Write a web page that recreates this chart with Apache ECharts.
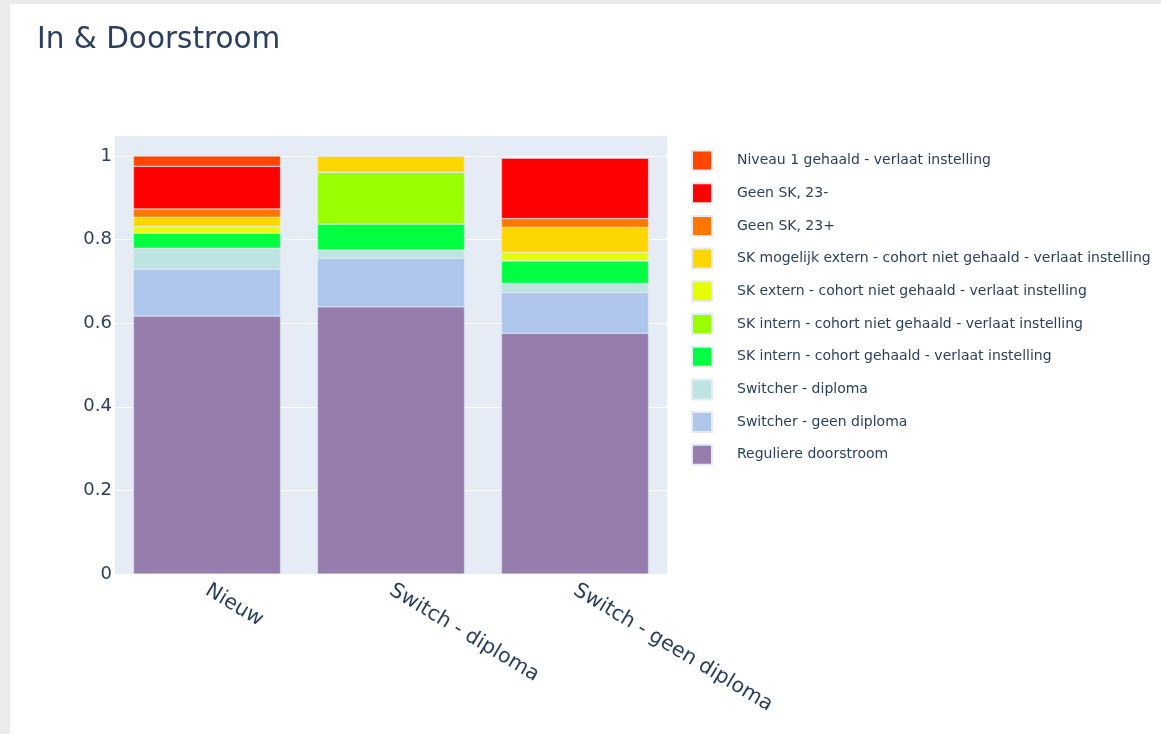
<!DOCTYPE html>
<html>
<head>
<meta charset="utf-8">
<style>
html,body{margin:0;padding:0;background:#ebebeb;width:1161px;height:734px;overflow:hidden;}
#card{position:absolute;left:10px;top:4px;width:1151px;height:730px;background:#fff;}
#chart{width:1151px;height:730px;}
</style>
<script src="https://cdn.jsdelivr.net/npm/echarts@6/dist/echarts.min.js"></script>
</head>
<body>
<div id="card"><div id="chart"></div></div>
<script>
const categories = ["Nieuw", "Switch - diploma", "Switch - geen diploma"];
const yTicks = [0, 0.2, 0.4, 0.6, 0.8, 1];

const reguliere      = [0.617, 0.639, 0.576];
const switcherGeen   = [0.112, 0.116, 0.097];
const switcherDipl   = [0.050, 0.020, 0.022];
const skInternGeh    = [0.036, 0.062, 0.054];
const skInternNiet   = [0.000, 0.124, 0.000];
const skExtern       = [0.016, 0.000, 0.020];
const skMogelijk     = [0.022, 0.039, 0.060];
const geenSK23plus   = [0.020, 0.000, 0.021];
const geenSK23min    = [0.102, 0.000, 0.145];
const niveau1        = [0.025, 0.000, 0.000];

const seriesDefs = [
  ["Reguliere doorstroom", reguliere, "#957DAD"],
  ["Switcher - geen diploma", switcherGeen, "#AEC6EC"],
  ["Switcher - diploma", switcherDipl, "#BEE4E1"],
  ["SK intern - cohort gehaald - verlaat instelling", skInternGeh, "#00FF40"],
  ["SK intern - cohort niet gehaald - verlaat instelling", skInternNiet, "#99FF00"],
  ["SK extern - cohort niet gehaald - verlaat instelling", skExtern, "#E5FF00"],
  ["SK mogelijk extern - cohort niet gehaald - verlaat instelling", skMogelijk, "#FFD700"],
  ["Geen SK, 23+", geenSK23plus, "#FF7700"],
  ["Geen SK, 23-", geenSK23min, "#FF0000"],
  ["Niveau 1 gehaald - verlaat instelling", niveau1, "#FF4500"]
];

const FONT = "DejaVu Sans, Verdana, sans-serif";
const chart = echarts.init(document.getElementById('chart'));
chart.setOption({
  animation: false,
  backgroundColor: '#fff',
  title: {
    text: 'In & Doorstroom',
    left: 22, top: 16,
    textStyle: {color: '#2a3f5f', fontSize: 29.5, fontWeight: 'normal', fontFamily: FONT}
  },
  legend: {
    orient: 'vertical',
    left: 681, top: 145.5, padding: 0,
    itemWidth: 20, itemHeight: 20, itemGap: 10.7,
    icon: 'rect',
    data: seriesDefs.map(s => s[0]).slice().reverse(),
    textStyle: {color: '#2a3f5f', fontSize: 14, fontFamily: FONT, padding: [0,0,0,20]}
  },
  grid: {left: 105, top: 131, right: 494, bottom: 160, backgroundColor: '#E5ECF6', show: true, borderWidth: 0},
  xAxis: {
    type: 'category', data: categories,
    axisLine: {show: false}, axisTick: {show: false},
    axisLabel: {rotate: -31, color: '#2a3f5f', fontSize: 20.5, fontFamily: FONT, margin: 15}
  },
  yAxis: {
    type: 'value', min: 0, max: 1.05, interval: 0.2,
    axisLine: {show: false}, axisTick: {show: false},
    splitLine: {lineStyle: {color: '#fff', width: 1}},
    axisLabel: {color: '#2a3f5f', fontSize: 18, fontFamily: FONT, margin: 3,
      formatter: v => (yTicks.some(t => Math.abs(t - v) < 1e-9) ? String(Math.round(v*10)/10) : '')}
  },
  series: seriesDefs.map(([name, data, color]) => ({
    name, type: 'bar', stack: 'total', data,
    barCategoryGap: '20%',
    itemStyle: {color, borderColor: '#E5ECF6', borderWidth: 0.5}
  }))
});
</script>
</body>
</html>
